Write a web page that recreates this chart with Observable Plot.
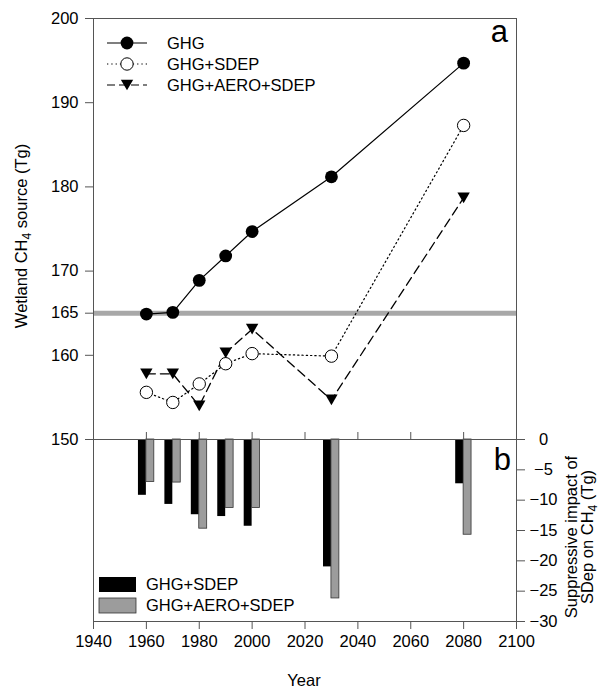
<!DOCTYPE html>
<html><head><meta charset="utf-8">
<script src="https://cdn.jsdelivr.net/npm/d3@7"></script>
<script src="https://cdn.jsdelivr.net/npm/@observablehq/plot@0.6"></script>
<style>
body{margin:0;background:#fff;}
#chart{position:relative;width:600px;height:688px;font-family:"Liberation Sans",Arial,Helvetica,sans-serif;}
#chart svg{position:absolute;left:0;overflow:visible;}
</style></head><body><div id="chart"></div>
<script>
// ---- data ----
const years = [1960, 1970, 1980, 1990, 2000, 2030, 2080];
const ghg = [164.9, 165.1, 168.9, 171.8, 174.7, 181.2, 194.7];
const ghgSdep = [155.6, 154.4, 156.6, 159.0, 160.2, 159.9, 187.3];
const ghgAeroSdep = [157.8, 157.8, 154.0, 160.3, 163.1, 154.7, 178.7];
const impactSdep = [-9.2, -10.7, -12.4, -12.7, -14.3, -21.0, -7.3];
const impactAeroSdep = [-7.0, -7.1, -14.7, -11.3, -11.3, -26.2, -15.7];
const baseline = [165];
const seriesA = ["GHG", "GHG+SDEP", "GHG+AERO+SDEP"];
const seriesB = ["GHG+SDEP", "GHG+AERO+SDEP"];
const xTicks = [1940, 1960, 1980, 2000, 2020, 2040, 2060, 2080, 2100];
const yTicksA = [150, 160, 165, 170, 180, 190, 200];
const yTicksB = [0, -5, -10, -15, -20, -25, -30];

const rowsA = years.map((year, i) => ({year, ghg: ghg[i], sdep: ghgSdep[i], aero: ghgAeroSdep[i]}));
const rowsB = years.map((year, i) => ({year, sdep: impactSdep[i], aero: impactAeroSdep[i]}));

const font = '"Liberation Sans", Arial, Helvetica, sans-serif';
const fs = 16.5;
const barW = 3;
const frameColor = "#555";
const grayBar = "#9c9c9c";

const triangleDown = {
  draw(ctx, size) {
    const side = Math.sqrt(size * 4 / Math.sqrt(3));
    const h = side * Math.sqrt(3) / 2;
    ctx.moveTo(-side / 2, -h / 2);
    ctx.lineTo(side / 2, -h / 2);
    ctx.lineTo(0, h / 2);
    ctx.closePath();
  }
};

const style = {fontFamily: font, fontSize: fs + "px", color: "#000", background: "transparent", overflow: "visible"};

const topPlot = Plot.plot({
  width: 600, height: 440,
  marginTop: 18, marginBottom: 1, marginLeft: 93, marginRight: 84,
  style,
  x: {domain: [1940, 2100]},
  y: {domain: [150, 200]},
  marks: [
    Plot.ruleY(baseline, {stroke: "#a8a8a8", strokeWidth: 5}),
    Plot.frame({stroke: frameColor}),
    Plot.axisY({ticks: yTicksA, tickSize: 8, tickPadding: 7, label: null, stroke: frameColor}),
    Plot.axisX({ticks: xTicks, tickSize: 7, dy: -7, tickFormat: () => "", label: null, stroke: frameColor}),
    Plot.line(rowsA, {x: "year", y: "ghg", stroke: "#000", strokeWidth: 1.2}),
    Plot.line(rowsA, {x: "year", y: "sdep", stroke: "#000", strokeWidth: 1.2, strokeDasharray: "1.3,3"}),
    Plot.line(rowsA, {x: "year", y: "aero", stroke: "#000", strokeWidth: 1.3, strokeDasharray: "9,5"}),
    Plot.dot(rowsA, {x: "year", y: "ghg", r: 6.4, fill: "#000", stroke: "none"}),
    Plot.dot(rowsA, {x: "year", y: "sdep", r: 6.2, fill: "#fff", stroke: "#000", strokeWidth: 1}),
    Plot.dot(rowsA, {x: "year", y: "aero", r: 4.6, symbol: triangleDown, fill: "#000", stroke: "none"})
  ]
});
topPlot.style.top = "0px";

const bottomPlot = Plot.plot({
  width: 600, height: 249,
  marginTop: 0, marginBottom: 67, marginLeft: 93, marginRight: 84,
  style,
  x: {domain: [1940, 2100]},
  y: {domain: [-30, 0]},
  marks: [
    Plot.rect(rowsB, {x1: d => d.year - barW, x2: "year", y1: 0, y2: "sdep", fill: "#000"}),
    Plot.rect(rowsB, {x1: "year", x2: d => d.year + barW, y1: 0, y2: "aero", fill: grayBar, stroke: "#333", strokeWidth: 0.8}),
    Plot.frame({stroke: frameColor}),
    Plot.axisY({anchor: "right", ticks: yTicksB, tickSize: 8, tickPadding: 19, textAnchor: "middle", label: null, stroke: frameColor}),
    Plot.axisX({ticks: xTicks, tickSize: 8, tickPadding: 6, tickFormat: d => String(d), label: null, stroke: frameColor})
  ]
});
bottomPlot.style.top = "439px";

const chart = document.getElementById("chart");
chart.appendChild(bottomPlot);
chart.appendChild(topPlot);

// ---- overlay: labels and legends ----
const svg = d3.select(chart).append("svg")
  .attr("width", 600).attr("height", 688)
  .style("top", "0px").style("pointer-events", "none")
  .attr("font-family", font).attr("font-size", fs).attr("fill", "#000");

function subLabel(g, before, sub, after) {
  const t = g.append("text").attr("text-anchor", "middle");
  t.append("tspan").text(before);
  t.append("tspan").attr("dy", 4).attr("font-size", 12).text(sub);
  t.append("tspan").attr("dy", -4).text(after);
  return t;
}

subLabel(svg.append("g").attr("transform", "translate(27,236) rotate(-90)"), "Wetland CH", "4", " source (Tg)");
svg.append("text").attr("transform", "translate(577,537) rotate(-90)").attr("text-anchor", "middle").text("Suppressive impact of");
subLabel(svg.append("g").attr("transform", "translate(593,537) rotate(-90)"), "SDep on CH", "4", " (Tg)");

svg.append("text").attr("x", 508).attr("y", 42).attr("text-anchor", "end").attr("font-size", 31).text("a");
svg.append("text").attr("x", 511).attr("y", 470).attr("text-anchor", "end").attr("font-size", 31).text("b");
svg.append("text").attr("x", 304).attr("y", 686).attr("text-anchor", "middle").text("Year");

// legend a
const legA = svg.append("g");
const dashes = [null, "1.3,3", "8,4"];
seriesA.forEach((name, i) => {
  const y = 43 + i * 21;
  const g = legA.append("g").attr("transform", `translate(0,${y})`);
  g.append("line").attr("x1", 107).attr("x2", 147).attr("y1", 0).attr("y2", 0)
    .attr("stroke", "#000").attr("stroke-width", 1.2).attr("stroke-dasharray", dashes[i]);
  if (i === 0) g.append("circle").attr("cx", 127).attr("cy", 0).attr("r", 6.4).attr("fill", "#000");
  if (i === 1) g.append("circle").attr("cx", 127).attr("cy", 0).attr("r", 6.2).attr("fill", "#fff").attr("stroke", "#000");
  if (i === 2) g.append("path").attr("transform", "translate(127,0)")
    .attr("d", d3.symbol(triangleDown, Math.PI * 4.6 * 4.6)()).attr("fill", "#000");
  g.append("text").attr("x", 167).attr("y", 6).text(name);
});

// legend b
const legB = svg.append("g");
const fillsB = ["#000", grayBar];
seriesB.forEach((name, i) => {
  const y = 577 + i * 21;
  legB.append("rect").attr("x", 99).attr("y", y).attr("width", 37).attr("height", 15)
    .attr("fill", fillsB[i]).attr("stroke", i ? "#333" : "none").attr("stroke-width", 0.8);
  legB.append("text").attr("x", 146).attr("y", y + 13).text(name);
});
</script></body></html>
